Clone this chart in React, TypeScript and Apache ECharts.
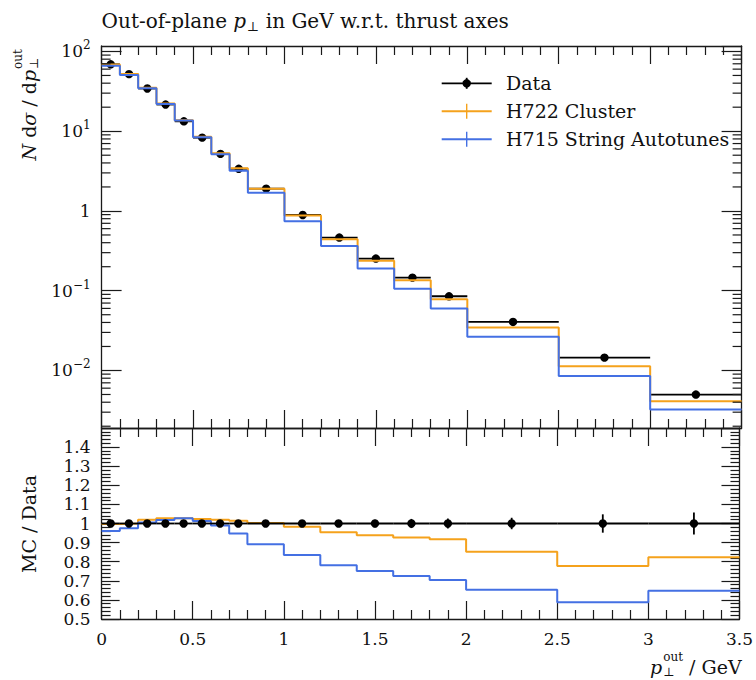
import React, { useEffect, useRef } from 'react';
import * as echarts from 'echarts';

// ---------- data ----------
const binEdges = [0, 0.1, 0.2, 0.3, 0.4, 0.5, 0.6, 0.7, 0.8, 1.0, 1.2, 1.4, 1.6, 1.8, 2.0, 2.5, 3.0, 3.5];
const dataValues = [69, 52, 34.3, 21.6, 13.3, 8.3, 5.2, 3.38, 1.9, 0.89, 0.464, 0.253, 0.146, 0.0852, 0.0406, 0.0145, 0.00499];
const dataRelErr = [0.008, 0.008, 0.008, 0.008, 0.008, 0.008, 0.009, 0.01, 0.012, 0.014, 0.016, 0.02, 0.024, 0.026, 0.03, 0.048, 0.058];
const clusterValues = [68.8, 52.0, 35.0, 22.2, 13.7, 8.5, 5.3, 3.43, 1.9, 0.875, 0.443, 0.237, 0.135, 0.0781, 0.0346, 0.0113, 0.00411];
const stringValues = [66.3, 50.7, 34.5, 22.0, 13.66, 8.41, 5.15, 3.2, 1.695, 0.743, 0.363, 0.19, 0.106, 0.06, 0.0265, 0.00853, 0.00323];
const dataRatio = [1, 1, 1, 1, 1, 1, 1, 1, 1, 1, 1, 1, 1, 1, 1, 1, 1];
const clusterRatio = [0.997, 1.0, 1.02, 1.028, 1.028, 1.024, 1.02, 1.014, 1.002, 0.983, 0.954, 0.938, 0.927, 0.917, 0.852, 0.777, 0.823];
const stringRatio = [0.961, 0.975, 1.005, 1.018, 1.027, 1.013, 0.99, 0.948, 0.892, 0.835, 0.782, 0.751, 0.725, 0.704, 0.653, 0.588, 0.648];
const legendNames = ['Data', 'H722 Cluster', 'H715 String Autotunes'];

// axis ranges
const xMin = 0, xMax = 3.5, xStep = 0.5;
const yMainMin = 0.0019, yMainMax = 117;
const yRatioMin = 0.5, yRatioMax = 1.5, yRatioStep = 0.1;

// ---------- style ----------
const SERIF = '"DejaVu Serif", "Liberation Serif", serif';
const AX = '#1a1a1a';
const ORANGE = '#f5a21c';
const BLUE = '#4470e3';
const FS = 19;

const gridL = 101.6, gridW = 640, mainTop = 46, mainH = 382, ratioTop = 428, ratioH = 191;

function tw(text: string, size: number, italic = false): number {
  const ctx = document.createElement('canvas').getContext('2d');
  if (!ctx) return text.length * size * 0.55;
  ctx.font = `${italic ? 'italic ' : ''}${size}px "DejaVu Serif"`;
  return ctx.measureText(text).width;
}

function stepPoints(values: number[]) {
  const pts: number[][] = values.map((v, i) => [binEdges[i], v]);
  pts.push([binEdges[binEdges.length - 1], values[values.length - 1]]);
  return pts;
}

function errRows(values: number[], rel: number[], relative: boolean) {
  return values.map((v, i) => [binEdges[i], binEdges[i + 1], v, relative ? v * rel[i] : rel[i]]);
}

const renderData = (_p: any, api: any) => {
  const x0 = api.value(0), x1 = api.value(1), y = api.value(2), e = api.value(3);
  const xc = (x0 + x1) / 2;
  const pl = api.coord([x0, y]);
  const pr = api.coord([x1, y]);
  const pc = api.coord([xc, y]);
  const pt = api.coord([xc, y + e]);
  const pb = api.coord([xc, y - e]);
  const st = { stroke: '#000', lineWidth: 1.8 };
  return {
    type: 'group',
    children: [
      { type: 'line', shape: { x1: pl[0], y1: pl[1], x2: pr[0], y2: pr[1] }, style: st },
      { type: 'line', shape: { x1: pc[0], y1: pt[1], x2: pc[0], y2: pb[1] }, style: st },
      { type: 'circle', shape: { cx: pc[0], cy: pc[1], r: 4.2 }, style: { fill: '#000' } },
    ],
  };
};

const logMinor: number[][] = [];
for (let e = -3; e <= 2; e++) {
  for (let m = 2; m <= 9; m++) {
    const v = m * Math.pow(10, e);
    if (v > yMainMin && v < yMainMax) logMinor.push([0, v]);
  }
}

const renderMinor = (_p: any, api: any) => {
  const v = api.value(1);
  const pl = api.coord([xMin, v]);
  const pr = api.coord([xMax, v]);
  const st = { stroke: AX, lineWidth: 1.2 };
  return {
    type: 'group',
    children: [
      { type: 'line', shape: { x1: pl[0], y1: pl[1], x2: pl[0] + 9, y2: pl[1] }, style: st },
      { type: 'line', shape: { x1: pr[0] - 9, y1: pr[1], x2: pr[0], y2: pr[1] }, style: st },
    ],
  };
};

const fmtNum = (v: number) => String(parseFloat(v.toFixed(2)));

function xAxisCfg(gridIndex: number, position: string, showLabels: boolean) {
  return {
    type: 'value', gridIndex, position, min: xMin, max: xMax, interval: xStep,
    axisLine: { show: true, onZero: false, lineStyle: { color: AX, width: 1.3 } },
    axisTick: { show: true, inside: true, length: 18, lineStyle: { color: AX, width: 1.2 } },
    minorTick: { show: true, splitNumber: 5, length: 9, lineStyle: { color: AX, width: 1.2 } },
    splitLine: { show: false },
    minorSplitLine: { show: false },
    axisLabel: {
      show: showLabels, margin: 11, fontFamily: SERIF, fontSize: 17, color: '#111',
      formatter: (v: number) => fmtNum(v),
    },
  };
}

const logLabel = (v: number) => {
  const e = Math.round(Math.log10(v));
  if (e === 0) return '{b|1}';
  return `{b|10}{s|${e < 0 ? '\u2212' + -e : e}}`;
};

function yMainCfg(position: string, showLabels: boolean) {
  return {
    type: 'log', logBase: 10, gridIndex: 0, position, min: yMainMin, max: yMainMax,
    axisLine: { show: true, onZero: false, lineStyle: { color: AX, width: 1.3 } },
    axisTick: { show: true, inside: true, length: 20, lineStyle: { color: AX, width: 1.2 } },
    minorTick: { show: false },
    splitLine: { show: false },
    axisLabel: {
      show: showLabels, margin: 11, showMinLabel: false, showMaxLabel: false,
      formatter: logLabel,
      rich: {
        b: { fontFamily: SERIF, fontSize: 17, lineHeight: 24, color: '#111' },
        s: { fontFamily: SERIF, fontSize: 12, lineHeight: 12, verticalAlign: 'top', color: '#111' },
      },
    },
  };
}

function yRatioCfg(position: string, showLabels: boolean) {
  return {
    type: 'value', gridIndex: 1, position, min: yRatioMin, max: yRatioMax, interval: yRatioStep,
    axisLine: { show: true, onZero: false, lineStyle: { color: AX, width: 1.3 } },
    axisTick: { show: true, inside: true, length: 18, lineStyle: { color: AX, width: 1.2 } },
    minorTick: { show: true, splitNumber: 5, length: 9, lineStyle: { color: AX, width: 1.2 } },
    splitLine: { show: false },
    minorSplitLine: { show: false },
    axisLabel: {
      show: showLabels, margin: 11, showMaxLabel: false, fontFamily: SERIF, fontSize: 17, color: '#111',
      formatter: (v: number) => fmtNum(v),
    },
  };
}

function txt(text: string, x: number, y: number, size: number, opts: any = {}) {
  return {
    type: 'text', x, y, silent: true,
    style: {
      text, fill: '#111',
      font: `${opts.italic ? 'italic ' : ''}${size}px ${SERIF}`,
      align: opts.align || 'left', verticalAlign: 'middle',
      textAlign: opts.align || 'left', textVerticalAlign: 'middle',
    },
  };
}

function buildGraphics() {
  const g: any[] = [];
  // Title
  {
    const y = 20.5;
    const TS = 20;
    let x = gridL;
    const a = 'Out-of-plane ';
    g.push(txt(a, x, y, TS)); x += tw(a, TS);
    g.push(txt('p', x, y, TS, { italic: true })); x += tw('p', TS, true);
    g.push(txt('\u22A5', x + 0.5, y + 6, 13)); x += tw('\u22A5', 13) + 1;
    g.push(txt(' in GeV w.r.t. thrust axes', x, y, TS));
  }
  // Y label (main), rotated
  {
    const ch: any[] = [];
    let x = 0;
    const parts: [string, boolean][] = [['N', true], [' d', false], ['\u03C3', true], [' / d', false], ['p', true]];
    for (const [s, it] of parts) { ch.push(txt(s, x, 0, FS, { italic: it })); x += tw(s, FS, it); }
    ch.push(txt('out', x + 1, -11, 12));
    ch.push(txt('\u22A5', x + 1, 5.5, 12));
    g.push({ type: 'group', x: 28.5, y: 160.5, rotation: Math.PI / 2, children: ch });
  }
  // Y label (ratio)
  g.push({ type: 'group', x: 28.5, y: 524, rotation: Math.PI / 2, children: [txt('MC / Data', 0, 0, FS, { align: 'center' })] });
  // X label
  {
    const y = 666.5;
    const rest = ' / GeV';
    const wp = tw('p', FS, true);
    const ws = Math.max(tw('out', 12), tw('\u22A5', 12)) + 1;
    const wr = tw(rest, FS);
    let x = gridL + gridW - (wp + ws + wr);
    g.push(txt('p', x, y, FS, { italic: true })); x += wp;
    g.push(txt('out', x + 1, y - 10, 12));
    g.push(txt('\u22A5', x + 1, y + 5.5, 12)); x += ws;
    g.push(txt(rest, x, y, FS));
  }
  // Legend
  const lx0 = 441.7, lx1 = 491.7, lxc = 466.7, tx = 506;
  const rows = [83.3, 111.2, 139.3];
  const cols = ['#000', ORANGE, BLUE];
  rows.forEach((ry, i) => {
    g.push({ type: 'line', silent: true, shape: { x1: lx0, y1: ry, x2: lx1, y2: ry }, style: { stroke: cols[i], lineWidth: i === 0 ? 1.8 : 2 } });
    g.push({ type: 'line', silent: true, shape: { x1: lxc, y1: ry - (i === 0 ? 5.5 : 7.5), x2: lxc, y2: ry + (i === 0 ? 5.5 : 7.5) }, style: { stroke: cols[i], lineWidth: i === 0 ? 1.8 : 1.4 } });
    if (i === 0) g.push({ type: 'circle', silent: true, shape: { cx: lxc, cy: ry, r: 4.2 }, style: { fill: '#000' } });
    g.push(txt(legendNames[i], tx, ry, FS));
  });
  return g;
}

export default function App() {
  const ref = useRef<HTMLDivElement>(null);
  useEffect(() => {
    if (!ref.current) return;
    const chart = echarts.init(ref.current, null, { renderer: 'svg' });
    const option: any = {
      animation: false,
      backgroundColor: '#fff',
      grid: [
        { left: gridL, top: mainTop, width: gridW, height: mainH, containLabel: false },
        { left: gridL, top: ratioTop, width: gridW, height: ratioH, containLabel: false },
      ],
      xAxis: [
        xAxisCfg(0, 'bottom', false),
        xAxisCfg(0, 'top', false),
        xAxisCfg(1, 'bottom', true),
        xAxisCfg(1, 'top', false),
      ],
      yAxis: [
        yMainCfg('left', true),
        yMainCfg('right', false),
        yRatioCfg('left', true),
        yRatioCfg('right', false),
      ],
      series: [
        {
          name: legendNames[0], type: 'custom', xAxisIndex: 0, yAxisIndex: 0, z: 1,
          renderItem: renderData, encode: { x: [0, 1], y: 2 },
          data: errRows(dataValues, dataRelErr, true),
        },
        {
          name: legendNames[1], type: 'line', xAxisIndex: 0, yAxisIndex: 0, z: 3, step: 'end',
          showSymbol: false, symbol: 'none', data: stepPoints(clusterValues),
          lineStyle: { color: ORANGE, width: 2 }, itemStyle: { color: ORANGE },
        },
        {
          name: legendNames[2], type: 'line', xAxisIndex: 0, yAxisIndex: 0, z: 4, step: 'end',
          showSymbol: false, symbol: 'none', data: stepPoints(stringValues),
          lineStyle: { color: BLUE, width: 2 }, itemStyle: { color: BLUE },
        },
        {
          name: legendNames[1] + ' ratio', type: 'line', xAxisIndex: 2, yAxisIndex: 2, z: 3, step: 'end',
          showSymbol: false, symbol: 'none', data: stepPoints(clusterRatio),
          lineStyle: { color: ORANGE, width: 2 }, itemStyle: { color: ORANGE },
        },
        {
          name: legendNames[2] + ' ratio', type: 'line', xAxisIndex: 2, yAxisIndex: 2, z: 4, step: 'end',
          showSymbol: false, symbol: 'none', data: stepPoints(stringRatio),
          lineStyle: { color: BLUE, width: 2 }, itemStyle: { color: BLUE },
        },
        {
          name: legendNames[0] + ' ratio', type: 'custom', xAxisIndex: 2, yAxisIndex: 2, z: 5,
          renderItem: renderData, encode: { x: [0, 1], y: 2 },
          data: errRows(dataRatio, dataRelErr, false),
        },
        {
          name: 'minor', type: 'custom', xAxisIndex: 0, yAxisIndex: 0, z: 6, silent: true, clip: false,
          renderItem: renderMinor, encode: { x: 0, y: 1 }, data: logMinor,
        },
      ],
      graphic: buildGraphics(),
    };
    chart.setOption(option);
    return () => chart.dispose();
  }, []);
  return (
    <div
      ref={ref}
      style={{ position: 'absolute', left: 0, top: 0, width: 756, height: 680, background: '#fff' }}
    />
  );
}
